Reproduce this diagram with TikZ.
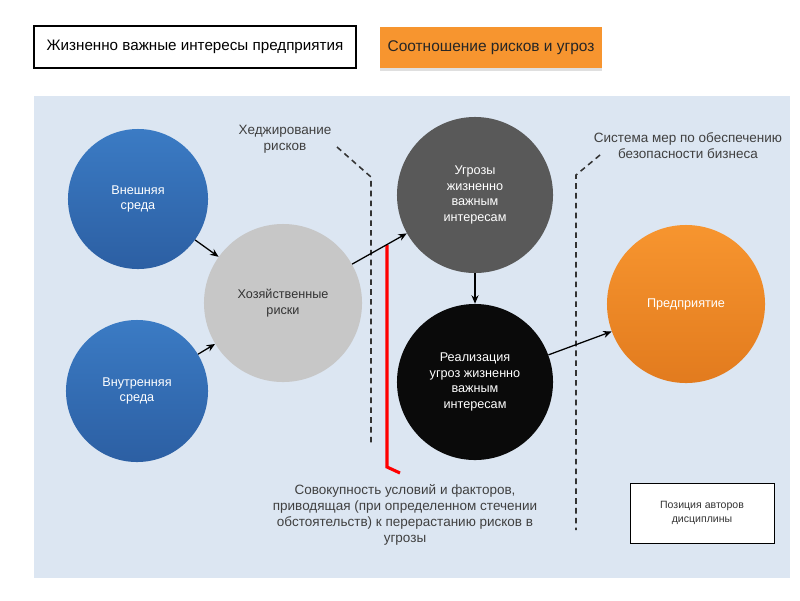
\documentclass[tikz,border=0pt]{standalone}
\usepackage{fontspec}
\setmainfont{Liberation Sans}
\usetikzlibrary{arrows.meta,shadows}
\definecolor{panel}{HTML}{DCE6F2}
\definecolor{sblue}{HTML}{3B7BC4}
\definecolor{dblue}{HTML}{2C5FA3}
\definecolor{sorange}{HTML}{F7952F}
\definecolor{dorange}{HTML}{E27B1E}
\begin{document}
\begin{tikzpicture}[x=0.025cm, y=-0.025cm, every node/.style={font=\fontsize{9}{11}\selectfont},
	c/.style={circle, draw=none, text=white, align=center, inner sep=0pt},
	lab/.style={align=center, text=black!75, font=\fontsize{9.6}{11.4}\selectfont},
	arr/.style={-{Stealth[length=6pt,width=5pt]}, line width=0.9pt},
	sep/.style={dash pattern=on 4pt off 3pt, line width=1.1pt, black!80}]
	\useasboundingbox (0,0) rectangle (800,600);
	\fill[white] (0,0) rectangle (800,600);
	\node[draw, line width=1.2pt, fill=white, minimum width=8.05cm, minimum height=1.05cm, font=\fontsize{10.8}{12}\selectfont] (vital) at (195,47) {Жизненно важные интересы предприятия};
	\node[fill=sorange, drop shadow={opacity=0.25, shadow xshift=0pt, shadow yshift=-2pt}, minimum width=5.55cm, minimum height=1.025cm, font=\fontsize{11}{12}\selectfont, text=black!85] (ratio) at (491,47.5) {Соотношение рисков и угроз};
	\fill[panel] (34,96) rectangle (790,578);
	% circles
	\node[c, top color=sblue, bottom color=dblue, minimum size=3.5cm] (ext) at (138,199) {Внешняя\\среда};
	\node[c, top color=sblue, bottom color=dblue, minimum size=3.55cm] (int) at (137,391) {Внутренняя\\среда};
	\node[c, fill=black!22, text=black!80, minimum size=3.95cm] (risk) at (283,303) {Хозяйственные\\риски};
	\node[c, fill=black!65, minimum size=3.9cm] (threat) at (475,195) {Угрозы\\жизненно\\важным\\интересам};
	\node[c, fill=black!96, minimum size=3.9cm] (real) at (475,382) {Реализация\\угроз жизненно\\важным\\интересам};
	\node[c, top color=sorange, bottom color=dorange, minimum size=3.95cm] (firm) at (686,304) {Предприятие};
	\node[draw, fill=white, minimum width=3.6cm, minimum height=1.5cm, align=center, text=black!80, font=\fontsize{7.5}{9.5}\selectfont] (pos) at (702,513) {Позиция авторов\\дисциплины};
	% labels
	\node[lab] (hedge) at (285,139) {Хеджирование\\рисков};
	\node[lab] (secure) at (688,146) {Система мер по обеспечению\\безопасности бизнеса};
	\node[lab] (cond) at (405,515) {Совокупность условий и факторов,\\приводящая (при определенном стечении\\обстоятельств) к перерастанию рисков в\\угрозы};
	% borders
	\draw[sep] (337,147) -- (371,177) -- (371,443);
	\draw[sep] (600,155) -- (576,175) -- (576,530);
	\draw[red, line width=2.2pt] (387,245) -- (387,467) -- (400,473);
	% arrows
	\draw[arr] (ext) -- (risk);
	\draw[arr] (int) -- (risk);
	\draw[arr] (risk) -- (threat);
	\draw[arr] (threat) -- (real);
	\draw[arr] (real) -- (firm);
\end{tikzpicture}
\end{document}
